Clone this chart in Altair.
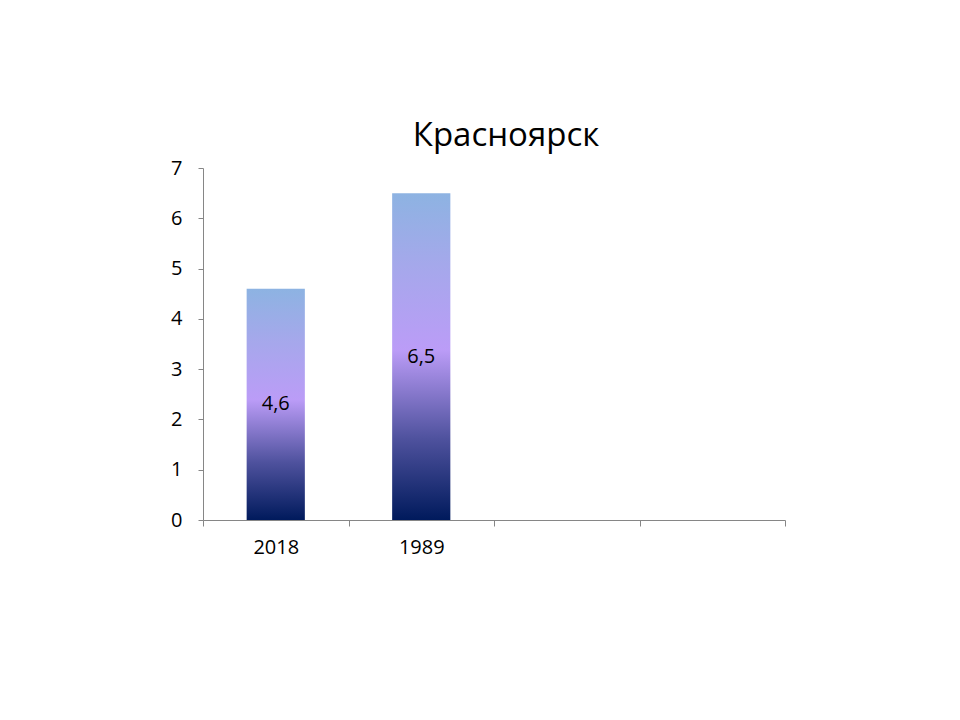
import altair as alt
import pandas as pd

categories = ["2018", "1989"]
values = [4.6, 6.5]
x_domain = ["2018", "1989", " ", "  "]
title_text = "Красноярск"

df = pd.DataFrame({"cat": categories, "value": values})

grad = alt.Gradient(
    gradient="linear",
    x1=0, x2=0, y1=1, y2=0,
    stops=[
        alt.GradientStop(offset=0.0, color="#001a5c"),
        alt.GradientStop(offset=0.25, color="#4f529e"),
        alt.GradientStop(offset=0.52, color="#bb9cf7"),
        alt.GradientStop(offset=0.78, color="#a5a8eb"),
        alt.GradientStop(offset=1.0, color="#8db3e2"),
    ],
)

FONT = "Open Sans"

x = alt.X(
    "cat:N",
    scale=alt.Scale(domain=x_domain, paddingInner=0, paddingOuter=0),
    sort=None,
    axis=alt.Axis(
        title=None, labelAngle=0, tickBand="extent", domainColor="#868686",
        tickColor="#868686", tickSize=6, labelFontSize=20, labelFont=FONT,
        labelColor="#000000", labelPadding=11, grid=False,
    ),
)
y = alt.Y(
    "value:Q",
    scale=alt.Scale(domain=[0, 7], nice=False),
    axis=alt.Axis(
        title=None, values=[0, 1, 2, 3, 4, 5, 6, 7], grid=False,
        domainColor="#868686", tickColor="#868686", tickSize=5,
        labelFontSize=20, labelFont=FONT, labelColor="#000000",
        labelPadding=16,
    ),
)

bars = alt.Chart(df).mark_bar(
    color=grad, width=alt.RelativeBandSize(0.4)
).encode(x=x, y=y)

labels = alt.Chart(df).transform_calculate(
    mid="datum.value / 2",
    lab="replace(format(datum.value, '.1f'), '.', ',')",
).mark_text(fontSize=20, font=FONT, color="#000000").encode(
    x=alt.X("cat:N", scale=alt.Scale(domain=x_domain), sort=None),
    y=alt.Y("mid:Q"),
    text="lab:N",
)

chart = (
    alt.layer(bars, labels)
    .properties(
        width=582,
        height=352,
        background="white",
        title=alt.Title(title_text, fontSize=33, font=FONT, fontWeight="normal",
                        color="#000000", anchor="middle", offset=5, dx=12),
        autosize=alt.AutoSizeParams(type="none"),
        padding={"left": 195, "top": 160, "right": 160, "bottom": 180},
    )
    .configure_view(stroke="transparent", strokeWidth=0)
)

chart.save("out.html", embed_options={"renderer": "svg", "actions": False})
